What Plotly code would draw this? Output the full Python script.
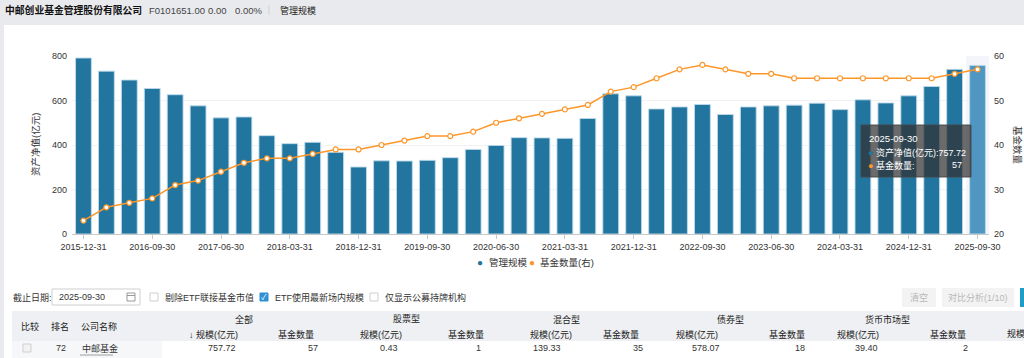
import plotly.graph_objects as go

# ---------------- data ----------------
dates = [
    "2015-12-31", "2016-03-31", "2016-06-30", "2016-09-30", "2016-12-31",
    "2017-03-31", "2017-06-30", "2017-09-30", "2017-12-31", "2018-03-31",
    "2018-06-30", "2018-09-30", "2018-12-31", "2019-03-31", "2019-06-30",
    "2019-09-30", "2019-12-31", "2020-03-31", "2020-06-30", "2020-09-30",
    "2020-12-31", "2021-03-31", "2021-06-30", "2021-09-30", "2021-12-31",
    "2022-03-31", "2022-06-30", "2022-09-30", "2022-12-31", "2023-03-31",
    "2023-06-30", "2023-09-30", "2023-12-31", "2024-03-31", "2024-06-30",
    "2024-09-30", "2024-12-31", "2025-03-31", "2025-06-30", "2025-09-30",
]
aum = [
    791, 732, 692, 654, 626, 576, 522, 526, 442, 406,
    412, 367, 301, 329, 328, 331, 343, 380, 398, 433,
    432, 430, 519, 630, 621, 562, 571, 582, 537, 571,
    576, 579, 588, 559, 603, 589, 621, 663, 740, 757.72,
]
fund_count = [
    23, 26, 27, 28, 31, 32, 34, 36, 37, 37,
    38, 39, 39, 40, 41, 42, 42, 43, 45, 46,
    47, 48, 49, 52, 53, 55, 57, 58, 57, 56,
    56, 55, 55, 55, 55, 55, 55, 55, 56, 57,
]
tick_dates = dates[::3]

company = "中邮创业基金管理股份有限公司"
code_text = "F0101651.00"
chg_text = "0.00"
pct_text = "0.00%"

table_groups = ["全部", "股票型", "混合型", "债券型", "货币市场型"]
row_rank = "72"
row_name = "中邮基金"
row_values = ["757.72", "57", "0.43", "1", "139.33", "35", "578.07", "18", "39.40", "2"]

# ---------------- geometry helpers ----------------
W, H = 1024, 358
L, R, T, B = 72, 35, 56, 124
PW, PH = W - L - R, H - T - B


def px(x):
    return (x - L) / PW


def py(y):
    return (H - B - y) / PH


FONT = "Liberation Sans, Arial, Noto Sans CJK SC, sans-serif"
BLUE = "#22759f"
BLUE_HI = "#4f96c2"
ORANGE = "#fd9628"
TS = 9  # table font size

bar_colors = [BLUE] * (len(dates) - 1) + [BLUE_HI]

fig = go.Figure()
fig.add_trace(go.Bar(
    x=dates, y=aum, name="管理规模",
    marker=dict(color=bar_colors, line=dict(color="rgba(190,218,235,0.9)", width=1)),
    showlegend=False, yaxis="y",
))
fig.add_trace(go.Scatter(
    x=dates, y=fund_count, name="基金数量(右)", yaxis="y2",
    mode="lines+markers",
    line=dict(color=ORANGE, width=1.5),
    marker=dict(symbol="circle", size=5, color="white", line=dict(color=ORANGE, width=1.2)),
    showlegend=False,
))

shapes = []
ann = []

# page background panel
shapes.append(dict(type="rect", xref="paper", yref="paper", layer="below",
                   x0=px(4), x1=px(1024), y0=py(358), y1=py(25),
                   fillcolor="white", line=dict(width=0)))
# hover band on last category
shapes.append(dict(type="rect", xref="x", yref="paper", layer="below",
                   x0=len(dates) - 1.5, x1=len(dates) - 0.5, y0=0, y1=1,
                   fillcolor="rgba(160,175,215,0.13)", line=dict(width=0)))


def text(x, y, s, size=TS, color="#333", anchor="left", weight=None, angle=0):
    f = dict(size=size, color=color, family=FONT)
    if weight:
        f["weight"] = weight
    ann.append(dict(xref="paper", yref="paper", x=px(x), y=py(y), text=s,
                    showarrow=False, xanchor=anchor, yanchor="middle",
                    font=f, textangle=angle))


# header
text(3, 10, "<b>" + company + "</b>", size=9.8, color="#111")
text(147, 10, code_text, size=9.5, color="#444")
text(206, 10, chg_text, size=9.5, color="#444")
text(233, 10, pct_text, size=9.5, color="#444")
shapes.append(dict(type="line", xref="paper", yref="paper", x0=px(269), x1=px(269),
                   y0=py(5), y1=py(15), line=dict(color="#d0d0d0", width=1)))
text(278, 10, "管理规模", size=9, color="#222")

# axis titles
text(35, 145, "资产净值(亿元)", size=9.5, color="#333", anchor="center", angle=-90)
text(1018, 145, "基金数量", size=9.5, color="#333", anchor="center", angle=90)

# legend (manual)
text(480, 262, "●", size=10, color=BLUE, anchor="center")
text(487, 262, "管理规模", size=9.5, color="#333")
text(532, 262, "●", size=10, color=ORANGE, anchor="center")
text(538, 262, "基金数量(右)", size=9.5, color="#333")

# tooltip
shapes.append(dict(type="rect", xref="paper", yref="paper", x0=px(861), x1=px(971),
                   y0=py(177), y1=py(125), fillcolor="rgba(50,50,50,0.72)",
                   line=dict(color="rgba(70,70,70,0.9)", width=1)))
text(867, 138, dates[-1], size=9.5, color="white")
text(866, 152, "<span style='color:%s'>●</span> 资产净值(亿元):%s" % (BLUE, f"{aum[-1]:.2f}"),
     size=9, color="white")
text(866, 165, "<span style='color:%s'>●</span> 基金数量:" % ORANGE, size=9, color="white")
text(964, 165, str(fund_count[-1]), size=9, color="white", anchor="right")

# controls row
text(11, 297, "截止日期:", color="#333")
shapes.append(dict(type="rect", xref="paper", yref="paper", x0=px(52), x1=px(140),
                   y0=py(305), y1=py(289), fillcolor="white", line=dict(color="#cfcfcf", width=1)))
text(57, 297, "2025-09-30", color="#333")
shapes.append(dict(type="rect", xref="paper", yref="paper", x0=px(127), x1=px(135),
                   y0=py(301), y1=py(293), fillcolor="white", line=dict(color="#999", width=1)))
shapes.append(dict(type="line", xref="paper", yref="paper", x0=px(127), x1=px(135),
                   y0=py(295.5), y1=py(295.5), line=dict(color="#999", width=1)))


def checkbox(x, y, checked=False, disabled=False):
    fill = "#2d8fd6" if checked else ("#f2f2f2" if disabled else "white")
    lc = "#2d8fd6" if checked else "#cfcfcf"
    shapes.append(dict(type="rect", xref="paper", yref="paper", x0=px(x), x1=px(x + 8),
                       y0=py(y + 4), y1=py(y - 4), fillcolor=fill, line=dict(color=lc, width=1)))
    if checked:
        text(x + 4, y, "✓", size=8, color="white", anchor="center")


checkbox(150, 297)
text(163, 297, "剔除ETF联接基金市值", color="#333")
checkbox(260, 297, checked=True)
text(273, 297, "ETF使用最新场内规模", color="#333")
checkbox(370, 297)
text(383, 297, "仅显示公募持牌机构", color="#333")

# buttons
shapes.append(dict(type="rect", xref="paper", yref="paper", x0=px(902), x1=px(936),
                   y0=py(307), y1=py(288), fillcolor="#f3f3f3", line=dict(width=0)))
text(919, 297.5, "清空", color="#b8b8b8", anchor="center")
shapes.append(dict(type="rect", xref="paper", yref="paper", x0=px(942), x1=px(1014),
                   y0=py(307), y1=py(288), fillcolor="#f3f3f3", line=dict(width=0)))
text(978, 297.5, "对比分析(1/10)", color="#b8b8b8", anchor="center")
shapes.append(dict(type="rect", xref="paper", yref="paper", x0=px(1020), x1=px(1024),
                   y0=py(307), y1=py(288), fillcolor="#1e9ec6", line=dict(width=0)))

# table header
shapes.append(dict(type="rect", xref="paper", yref="paper", x0=px(12), x1=px(1024),
                   y0=py(341), y1=py(311), fillcolor="#eef0f3", line=dict(width=0)))
shapes.append(dict(type="rect", xref="paper", yref="paper", x0=px(12), x1=px(162),
                   y0=py(358), y1=py(341), fillcolor="#f6f7f9", line=dict(width=0)))
text(30, 326, "比较", color="#222", anchor="center")
text(60, 326, "排名", color="#222", anchor="center")
text(79, 326, "公司名称", color="#222")

group_centers = [244, 406, 566, 730, 887]
for g, cx in zip(table_groups, group_centers):
    text(cx, 319, g, color="#222", anchor="center")

sub_labels = ["↓ 规模(亿元)", "基金数量", "规模(亿元)", "基金数量", "规模(亿元)",
              "基金数量", "规模(亿元)", "基金数量", "规模(亿元)", "基金数量"]
sub_centers = [213, 296, 381, 466, 551, 621, 697, 787, 858, 948]
for s, cx in zip(sub_labels, sub_centers):
    text(cx, 334, s, color="#222", anchor="center")
text(1005, 334, "规模", color="#222")

# data row
checkbox(23, 348, disabled=True)
text(68, 348, row_rank, color="#333", anchor="right")
text(80, 348, row_name, color="#333")
shapes.append(dict(type="line", xref="paper", yref="paper", x0=px(80), x1=px(113),
                   y0=py(355), y1=py(355), line=dict(color="#888", width=0.8)))
val_right = [238, 320, 400, 483, 563, 645, 722, 807, 880, 970]
for v, rx in zip(row_values, val_right):
    text(rx, 348, v, color="#333", anchor="right")

fig.update_layout(
    width=W, height=H,
    margin=dict(l=L, r=R, t=T, b=B, pad=0),
    paper_bgcolor="#e9eaed",
    plot_bgcolor="rgba(0,0,0,0)",
    bargap=0.31,
    font=dict(family=FONT, size=9, color="#333"),
    xaxis=dict(
        type="category", tickmode="array", tickvals=tick_dates, ticktext=tick_dates,
        ticks="outside", ticklen=4, tickcolor="#c8c8c8", showline=True,
        linecolor="#c8c8c8", linewidth=1, showgrid=False, tickfont=dict(size=9, color="#333"),
        range=[-0.5, len(dates) - 0.5],
    ),
    yaxis=dict(
        range=[0, 800], dtick=200, showgrid=True, gridcolor="#f1f2f4", zeroline=False,
        showline=False, tickfont=dict(size=9, color="#333"), ticks="", ticklabelstandoff=4,
    ),
    yaxis2=dict(
        range=[20, 60], dtick=10, overlaying="y", side="right", showgrid=False,
        zeroline=False, showline=False, tickfont=dict(size=9, color="#333"),
        ticklabelstandoff=4,
    ),
    shapes=shapes,
    annotations=ann,
    showlegend=False,
    hovermode=False,
)

fig.write_html("out.html")
